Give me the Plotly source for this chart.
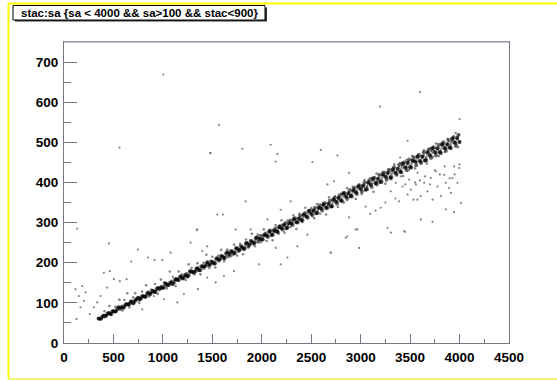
import plotly.graph_objects as go

# ---- data (sa on x, stac on y) ----
core_sa = [350, 375, 400, 425, 450, 475, 500, 525, 550, 575, 600, 625, 650, 675, 700, 725, 750, 775, 800, 825,
           850, 875, 900, 925, 950, 975, 1000, 1025, 1050, 1075, 1100, 1125, 1150, 1175, 1200, 1225, 1250, 1275,
           1300, 1325, 1350, 1375, 1400, 1425, 1450, 1475, 1500, 1525, 1550, 1575, 1600, 1625, 1650, 1675, 1700,
           1725, 1750, 1775, 1800, 1825, 1850, 1875, 1900, 1925, 1950, 1975, 2000, 2025, 2050, 2075, 2100, 2125,
           2150, 2175, 2200, 2225, 2250, 2275, 2300, 2325, 2350, 2375, 2400, 2425, 2450, 2475, 2500, 2525, 2550,
           2575, 2600, 2625, 2650, 2675, 2700, 2725, 2750, 2775, 2800, 2825, 2850, 2875, 2900, 2925, 2950, 2975,
           3000, 3025, 3050, 3075, 3100, 3125, 3150, 3175, 3200, 3225, 3250, 3275, 3300, 3325, 3350, 3375, 3400,
           3425, 3450, 3475, 3500, 3525, 3550, 3575, 3600, 3625, 3650, 3675, 3700, 3725, 3750, 3775, 3800, 3825,
           3850, 3875, 3900, 3925, 3950, 3975, 4000]
core_stac = [61, 61, 68, 68, 75, 72, 79, 79, 89, 88, 88, 96, 96, 103, 99, 107, 113, 110, 117, 115,
             126, 123, 130, 127, 137, 137, 137, 148, 144, 150, 147, 158, 157, 165, 161, 169, 166, 179,
             177, 178, 186, 181, 191, 191, 201, 195, 202, 198, 211, 208, 216, 212, 226, 222, 228,
             224, 236, 232, 239, 235, 249, 245, 253, 249, 263, 259, 258, 269, 267, 278, 269, 280,
             278, 289, 286, 294, 286, 299, 297, 309, 301, 310, 306, 320, 315, 329, 322, 330, 323,
             337, 335, 345, 337, 347, 340, 358, 352, 362, 355, 373, 365, 373, 366, 381, 375, 390,
             384, 392, 382, 400, 394, 410, 398, 409, 402, 420, 414, 424, 412, 433, 424, 434, 427,
             447, 437, 449, 438, 454, 452, 465, 453, 465, 455, 475, 467, 485, 475, 485, 475, 495,
             485, 495, 487, 509, 499, 511, 501]

core2_sa = [362, 388, 412, 437, 463, 488, 512, 538, 562, 588, 612, 637, 663, 688, 712, 738, 762, 788, 812, 838,
            862, 888, 912, 938, 962, 988, 1012, 1038, 1062, 1088, 1112, 1138, 1162, 1188, 1212, 1238, 1262, 1288,
            1312, 1338, 1362, 1388, 1412, 1438, 1462, 1488, 1512, 1538, 1562, 1588, 1612, 1638, 1662, 1688, 1712,
            1738, 1762, 1788, 1812, 1838, 1862, 1888, 1912, 1938, 1962, 1988, 2012, 2038, 2062, 2088, 2112, 2138,
            2162, 2188, 2212, 2238, 2262, 2288, 2312, 2338, 2362, 2388, 2412, 2438, 2462, 2488, 2512, 2538, 2562,
            2588, 2612, 2638, 2662, 2688, 2712, 2738, 2762, 2788, 2812, 2838, 2862, 2888, 2912, 2938, 2962, 2988,
            3012, 3038, 3062, 3088, 3112, 3138, 3162, 3188, 3212, 3238, 3262, 3288, 3312, 3338, 3362, 3388, 3412,
            3438, 3462, 3488, 3512, 3538, 3562, 3588, 3612, 3638, 3662, 3688, 3712, 3738, 3762, 3788, 3812, 3838,
            3862, 3888, 3912, 3938, 3962, 3988]
core2_stac = [60, 66, 66, 72, 73, 79, 78, 85, 85, 91, 91, 97, 97, 104, 103, 110, 108, 116, 115, 122,
              121, 128, 127, 135, 133, 141, 139, 147, 145, 153, 151, 160, 157, 166, 163, 172, 169, 178,
              175, 185, 181, 191, 187, 197, 193, 204, 198, 210, 205, 217, 211, 223, 216, 229, 222,
              236, 229, 242, 234, 248, 240, 255, 247, 261, 252, 267, 258, 273, 264, 280, 270, 286,
              276, 292, 282, 299, 288, 305, 294, 311, 300, 318, 306, 324, 312, 330, 318, 337, 324,
              343, 330, 349, 336, 355, 341, 362, 347, 368, 353, 374, 359, 381, 365, 387, 371, 393,
              377, 400, 383, 406, 389, 412, 395, 419, 401, 425, 407, 431, 413, 438, 419, 444, 425,
              450, 431, 457, 437, 463, 443, 469, 449, 475, 455, 482, 461, 488, 467, 494, 473, 500,
              479, 506, 485, 512, 491, 518]

halo_sa = [410, 460, 480, 520, 560, 590, 610, 640, 660, 700, 720, 760, 790, 830, 860, 880, 920, 950, 980, 1010,
           1040, 1070, 1100, 1130, 1160, 1190, 1230, 1260, 1290, 1320, 1350, 1380, 1410, 1440, 1470, 1500, 1530,
           1560, 1590, 1620, 1650, 1690, 1720, 1750, 1780, 1810, 1840, 1870, 1900, 1930, 1960, 1990, 2020, 2050,
           2080, 2110, 2140, 2170, 2200, 2230, 2260, 2290, 2320, 2350, 2380, 2410, 2440, 2470, 2500, 2530, 2560,
           2590, 2620, 2650, 2680, 2710, 2740, 2770, 2800, 2830, 2860, 2890, 2920, 2950, 2980, 3010, 3040, 3070,
           3100, 3130, 3160, 3190, 3220, 3250, 3280, 3310, 3340, 3370, 3400, 3430, 3460, 3490, 3520, 3550, 3580,
           3610, 3640, 3670, 3700, 3730, 3760, 3790, 3820, 3850, 3880, 3910, 3940, 3970, 3995, 3985, 3960,
           3015, 3065, 3115, 3165, 3215, 3265, 3315, 3365, 3415, 3465, 3515, 3565, 3615, 3665, 3715, 3765, 3815,
           3865, 3915, 3965, 2515, 2565, 2615, 2665, 2715, 2765, 2815, 2865, 2915, 2965, 2015, 2065, 2115, 2165,
           2215, 2265, 2315, 2365, 2415, 2465]
halo_stac = [79, 92, 70, 90, 108, 81, 107, 124, 89, 114, 124, 100, 128, 144, 116, 133, 147, 122, 158, 151,
             136, 178, 165, 142, 178, 171, 157, 196, 187, 171, 199, 171, 200, 220, 187, 215, 188,
             218, 232, 204, 233, 216, 245, 218, 247, 221, 258, 239, 272, 241, 270, 251, 283, 254,
             282, 256, 294, 272, 306, 275, 305, 289, 318, 284, 322, 301, 337, 312, 336, 311, 346,
             322, 349, 320, 363, 339, 366, 339, 372, 350, 386, 363, 389, 359, 395, 371, 406, 382,
             411, 377, 422, 399, 426, 397, 432, 408, 445, 419, 449, 416, 455, 431, 466, 435, 467,
             447, 480, 447, 485, 464, 497, 466, 498, 476, 509, 485, 515, 495, 519, 488, 523,
             391, 388, 405, 401, 418, 411, 428, 423, 442, 437, 457, 450, 466, 459, 479, 474, 493,
             485, 502, 498, 331, 327, 344, 338, 355, 352, 370, 362, 379, 375, 268, 266, 282, 278,
             295, 295, 306, 301, 318, 314]

branch_sa = [3406, 3490, 3575, 3642, 3709, 3777, 3844, 3895, 3945, 3996, 3979, 3912, 3811, 3608, 3507, 3423,
             3355, 3305, 3676, 3760, 3929, 3861, 3558, 3727, 3474, 3474, 3575, 3389, 3534, 3203, 3095,
             3050, 3150, 3250, 3350, 3450, 3550, 3650, 3750, 3850, 3950, 4000, 3900, 3800, 3700, 3600]
branch_stac = [415, 407, 424, 399, 411, 390, 419, 386, 440, 436, 399, 374, 366, 366, 382, 390,
               399, 378, 378, 428, 411, 399, 395, 357, 428, 370, 357, 353, 357, 337, 322,
               340, 330, 350, 360, 395, 400, 415, 430, 440, 420, 445, 410, 420, 395, 405]

out_sa = [1004, 1567, 562, 3197, 3601, 4000, 1476, 1804, 2090, 2158, 2596, 2765, 3474, 3399,
          2731, 2883, 2883, 2950, 2849, 3271, 3447, 3608, 3727, 3861, 3945, 4013,
          133, 116, 184, 218, 150, 200, 126, 167, 454, 747, 403, 464, 680, 848, 916, 994, 1078,
          504, 565, 633, 437, 369, 302, 261, 336, 1341, 1280, 1399, 1449, 1354, 791, 1010, 909, 1213, 1146,
          1483, 2141, 2512, 1837, 1607, 1348, 1736, 2141, 1972, 2191, 2259, 2360, 2462, 2697, 2866,
          1617, 1718, 1449, 1533, 2664, 2293, 2191, 2057, 1888, 1550, 2967, 3305, 3440, 2698, 2984]
out_stac = [669, 543, 487, 589, 625, 558, 473, 484, 494, 471, 481, 467, 504, 462,
            403, 424, 313, 283, 262, 287, 277, 308, 302, 333, 326, 349,
            285, 134, 142, 126, 117, 105, 60, 89, 248, 233, 175, 179, 203, 213, 207, 207, 225,
            159, 154, 159, 138, 117, 89, 72, 101, 281, 250, 229, 241, 134, 84, 109, 117, 122, 101,
            473, 452, 451, 353, 320, 283, 283, 237, 196, 196, 213, 241, 270, 225, 266,
            167, 179, 163, 151, 395, 353, 332, 308, 283, 320, 283, 275, 279, 225, 237]

title_text = "stac:sa {sa < 4000 && sa>100 && stac<900}"

# ---- figure ----
W, H = 557, 381
L, R, T, B = 64, 509, 42, 343

def px(xp):
    return (xp - L) / (R - L)

def py(yp):
    return (B - yp) / (B - T)

fig = go.Figure()
fig.add_trace(go.Scatter(x=out_sa, y=out_stac, mode="markers",
                         marker=dict(size=2.2, color="#8a8090", line=dict(width=0)), hoverinfo="skip"))
fig.add_trace(go.Scatter(x=branch_sa, y=branch_stac, mode="markers",
                         marker=dict(size=2.2, color="#8a8090", line=dict(width=0)), hoverinfo="skip"))
fig.add_trace(go.Scatter(x=halo_sa, y=halo_stac, mode="markers",
                         marker=dict(size=2.6, color="#6a6a6a", opacity=0.8, line=dict(width=0)), hoverinfo="skip"))
fig.add_trace(go.Scatter(x=core2_sa, y=core2_stac, mode="lines+markers",
                         line=dict(color="rgba(60,60,60,0.55)", width=1),
                         marker=dict(size=4, color="#303030", opacity=0.7, line=dict(width=0)), hoverinfo="skip"))
fig.add_trace(go.Scatter(x=core_sa, y=core_stac, mode="lines+markers",
                         line=dict(color="rgba(30,30,30,0.55)", width=1),
                         marker=dict(size=4, color="#000000", opacity=0.8, line=dict(width=0)), hoverinfo="skip"))

axis_col = "#7c7684"
tickfont = dict(family="Liberation Sans, Arial, sans-serif", size=13.5, color="black", weight="bold")

fig.update_xaxes(range=[0, 4500], dtick=500, tick0=0, ticks="inside", ticklen=9, tickwidth=1,
                 tickcolor=axis_col, showline=True, linecolor=axis_col, linewidth=1, mirror=True,
                 showgrid=False, zeroline=False, tickfont=tickfont, ticklabelstandoff=2,
                 minor=dict(dtick=250, tick0=0, ticks="inside", ticklen=4, tickcolor=axis_col, showgrid=False))
fig.update_yaxes(range=[0, 750], dtick=100, tick0=0, ticks="inside", ticklen=13, tickwidth=1,
                 tickcolor=axis_col, showline=True, linecolor=axis_col, linewidth=1, mirror=True,
                 showgrid=False, zeroline=False, tickfont=tickfont, ticklabelstandoff=2,
                 minor=dict(dtick=50, tick0=0, ticks="inside", ticklen=7, tickcolor=axis_col, showgrid=False))

shapes = [
    # lighter top frame line
    dict(type="line", xref="paper", yref="paper", x0=0, x1=1, y0=1, y1=1,
         line=dict(color="#b4aac0", width=1.5), layer="above"),
    # yellow canvas frame
    dict(type="line", xref="paper", yref="paper", x0=px(8.5), x1=px(8.5), y0=py(3.5), y1=py(379),
         line=dict(color="#ffff00", width=2), layer="above"),
    dict(type="line", xref="paper", yref="paper", x0=px(8.5), x1=px(560), y0=py(3.5), y1=py(3.5),
         line=dict(color="#ffff00", width=2), layer="above"),
    dict(type="line", xref="paper", yref="paper", x0=px(8.5), x1=px(560), y0=py(379), y1=py(379),
         line=dict(color="#f2f07a", width=2), layer="above"),
    # title box shadow + box
    dict(type="rect", xref="paper", yref="paper", x0=px(15), x1=px(267), y0=py(21.5), y1=py(7.5),
         fillcolor="#303030", line=dict(width=0), layer="above"),
    dict(type="rect", xref="paper", yref="paper", x0=px(13), x1=px(265), y0=py(20), y1=py(5.5),
         fillcolor="white", line=dict(color="black", width=1), layer="above"),
]

fig.update_layout(
    width=W, height=H,
    margin=dict(l=L, r=W - R, t=T, b=H - B, pad=0),
    paper_bgcolor="white", plot_bgcolor="white",
    showlegend=False,
    shapes=shapes,
    annotations=[dict(text=title_text, xref="paper", yref="paper", x=px(139), y=py(13),
                      xanchor="center", yanchor="middle", showarrow=False,
                      font=dict(family="Liberation Sans, Arial, sans-serif", size=11.5, color="black",
                                weight="bold"))],
)

fig.write_html("out.html", config={"displayModeBar": False},
               post_script="document.body.style.margin='0px';")
